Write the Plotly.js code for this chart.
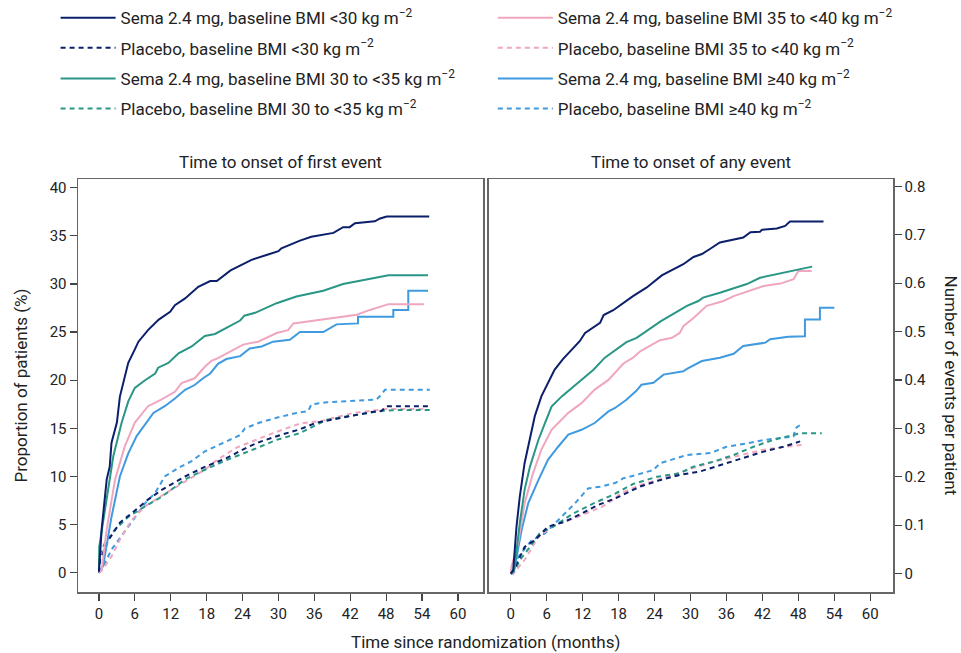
<!DOCTYPE html>
<html><head><meta charset="utf-8">
<script src="https://cdn.plot.ly/plotly-3.0.1.min.js"></script>
<style>html,body{margin:0;padding:0;background:#fff}</style>
</head><body>
<div id="chart" style="width:961px;height:653px"></div>
<script>
// ---------- Legend labels ----------
const labels = [
  "Sema 2.4 mg, baseline BMI <30 kg m<sup>−2</sup>",
  "Placebo, baseline BMI <30 kg m<sup>−2</sup>",
  "Sema 2.4 mg, baseline BMI 30 to <35 kg m<sup>−2</sup>",
  "Placebo, baseline BMI 30 to <35 kg m<sup>−2</sup>",
  "Sema 2.4 mg, baseline BMI 35 to <40 kg m<sup>−2</sup>",
  "Placebo, baseline BMI 35 to <40 kg m<sup>−2</sup>",
  "Sema 2.4 mg, baseline BMI ≥40 kg m<sup>−2</sup>",
  "Placebo, baseline BMI ≥40 kg m<sup>−2</sup>"
];
const colors = ["#0b1f6b","#0b1f6b","#2a9686","#2a9686","#f0a6bf","#f0a6bf","#3f9ae0","#3f9ae0"];
const dashes = ["solid","5px,4px","solid","5px,4px","solid","5px,4px","solid","5px,4px"];

// ---------- Left panel: proportion of patients (%) ----------
const L_sema30_t = [0,0.45,1.3,1.8,2.1,3.0,3.5,4.9,6.0,6.6,8.2,10,11.9,12.7,14.4,16.6,18.6,19.7,22,25.5,28,30,30.5,33.6,35.5,39.2,40.8,41.9,42.8,46.1,47,48.1,55.2];
const L_sema30_v = [0.1,4.5,9.7,11.0,13.5,15.6,18.3,21.8,23.2,24.0,25.2,26.3,27.1,27.8,28.5,29.7,30.3,30.3,31.4,32.5,33,33.4,33.7,34.5,34.9,35.3,35.9,35.9,36.3,36.5,36.8,37.0,37.0];
const L_pla30_t = [0,0.2,1.6,3.5,5.5,8.2,10.5,14.4,17.7,21.3,24.7,26.9,30.3,33.6,36.4,38.1,42,45.6,47.2,48.1,55];
const L_pla30_v = [0,1.4,3.4,5.2,6.2,7.6,8.6,10.0,11.0,11.9,13.0,13.6,14.3,14.9,15.6,15.8,16.3,16.7,16.8,17.3,17.3];
const L_sema35_t = [0,0.05,1.0,2.4,3.8,4.9,6.0,7.7,9.4,9.9,11.6,13.3,15.5,17.7,19.4,23.6,24.3,26.1,29.7,33,37.5,40.8,48.4,55];
const L_sema35_v = [0.3,2.7,6.5,12.1,15.6,17.8,19.2,20.0,20.7,21.3,21.8,22.8,23.5,24.6,24.8,26.2,26.7,27.0,28.0,28.7,29.3,30.0,30.9,30.9];
const L_pla35_t = [0,0.05,1.0,2.7,4.9,7.7,10.5,14.4,17.7,21.3,25.8,29.7,33.6,35.8,38.1,47,49.8,55.3];
const L_pla35_v = [0,1.8,3.1,4.5,5.8,6.9,7.9,9.7,10.7,11.7,12.8,13.8,14.5,15.2,15.9,16.8,16.9,16.9];
const L_sema40_t = [0,0.45,1.3,2.7,4.3,6.0,8.2,10.5,12.7,13.8,16.0,17.7,18.8,19.9,24.1,26.6,29.7,31.6,32.5,36.9,39.7,43.1,45.3,48.4,54.3];
const L_sema40_v = [0,0.3,4.5,9.7,13.1,15.6,17.3,18.0,18.8,19.7,20.2,21.4,22.0,22.3,23.7,24.0,24.9,25.2,25.9,26.3,26.5,26.8,27.3,27.9,27.9];
const L_pla40_t = [0,0.45,2.1,3.8,5.5,7.7,11.0,14.4,17.7,19.7,23,29.1,33.6,37.5,42.5,48.1,54.8];
const L_pla40_v = [0,0.2,1.7,3.8,5.5,6.9,8.2,9.5,10.7,11.7,13,14.5,15.5,15.8,16.6,17.0,17.0];
const L_semaGE40_t = [0,0.7,2.1,3.5,4.9,6.3,9.1,11.0,12.7,14.4,16.0,17.4,18.6,19.9,21.3,23.6,25.2,27.2,29.1,31.9,33.6,37.5,39.7,43.3,43.3,49.2,49.2,51.7,51.7,55];
const L_semaGE40_v = [0,0.7,5.8,10.0,12.4,14.2,16.6,17.3,18.1,19.0,19.5,20.2,20.7,21.7,22.2,22.5,23.3,23.5,24.0,24.2,25.0,25.0,25.8,25.9,26.6,26.6,27.3,27.3,29.3,29.3];
const L_plaGE40_t = [0,0.45,2.1,3.8,5.5,7.7,9.4,11.0,13.3,15.5,17.7,20.8,23.6,24.4,26.9,29.7,33,35,35.5,38.1,46.4,47.2,47.8,55.3];
const L_plaGE40_v = [0,0.3,2.4,3.8,5.3,7.2,8.3,10.0,10.9,11.6,12.6,13.5,14.3,15.0,15.6,16.1,16.6,16.8,17.5,17.7,18.0,18.5,19.0,19.0];

// ---------- Right panel: number of events per patient ----------
const R_sema30_t = [0,0.4,0.95,1.5,2.3,3.2,4.0,5.1,6.2,7.3,8.7,11.5,12.4,14.9,15.5,17.1,20.4,22.7,25.2,28.8,30.5,31.9,33.3,34.9,38.8,40,41.6,41.9,44.4,45.8,46.6,52.2];
const R_sema30_v = [0,0.007,0.097,0.159,0.228,0.276,0.325,0.366,0.394,0.421,0.443,0.48,0.497,0.518,0.534,0.544,0.573,0.591,0.616,0.639,0.654,0.660,0.671,0.684,0.694,0.705,0.706,0.710,0.713,0.718,0.727,0.727];
const R_pla30_t = [0,0.6,2.3,4.0,6.2,9.0,11.8,14.6,17.4,21.6,24.9,28.2,31.6,34.9,38.3,42.2,45.5,48.3];
const R_pla30_v = [0,0.01,0.055,0.069,0.097,0.107,0.124,0.142,0.155,0.18,0.193,0.204,0.211,0.224,0.238,0.252,0.262,0.273];
const R_sema35_t = [0,0.6,1.5,2.3,3.2,4.6,5.7,6.8,8.5,10.1,11.8,13.8,15.7,17.1,19.3,21,22.7,25,29.4,31.3,32.1,34.9,39.4,41.6,50.3];
const R_sema35_v = [0,0.01,0.104,0.173,0.221,0.276,0.311,0.345,0.366,0.383,0.40,0.421,0.446,0.459,0.478,0.487,0.501,0.521,0.553,0.563,0.570,0.580,0.598,0.611,0.634];
const R_pla35_t = [0,0.6,1.5,3.2,4.8,7.1,10.4,13.8,17.1,20.4,24.4,28.2,30.5,33.8,37.2,40.5,43.8,47.2,48.3,51.9];
const R_pla35_v = [0,0.005,0.028,0.055,0.083,0.097,0.124,0.145,0.163,0.185,0.20,0.207,0.221,0.231,0.245,0.262,0.276,0.287,0.29,0.29];
const R_sema40_t = [0,0.1,1.2,2.3,3.7,5.1,6.8,9.6,11.8,14.0,16.3,18.8,20.4,21.6,24.9,26.9,28.2,28.8,30.5,32.7,35.5,37.2,42.2,45,47.2,48,50.2];
const R_sema40_v = [0,0.014,0.062,0.145,0.207,0.256,0.297,0.332,0.352,0.38,0.40,0.434,0.446,0.459,0.482,0.487,0.497,0.511,0.528,0.553,0.563,0.573,0.594,0.599,0.608,0.625,0.625];
const R_pla40_t = [0,0.4,2.3,4.6,7.3,11.2,15.2,17.4,18.2,21.6,25.5,29.4,33.8,37.7,42.2,46,48.9];
const R_pla40_v = [0,0,0.028,0.076,0.10,0.117,0.138,0.155,0.165,0.183,0.197,0.214,0.231,0.242,0.256,0.262,0.266];
const R_semaGE40_t = [0,0.6,1.8,2.9,4.6,6.2,7.9,9.6,11.8,14.0,16.3,17.4,19.3,21,21.8,23.8,25.5,28.8,29.4,31.9,34.9,37.2,38.8,42.5,43.3,46.3,49.1,49.1,51.6,51.6,54];
const R_semaGE40_v = [0,0.01,0.09,0.145,0.193,0.235,0.262,0.287,0.297,0.311,0.335,0.342,0.359,0.378,0.39,0.394,0.411,0.418,0.423,0.439,0.446,0.454,0.47,0.477,0.484,0.489,0.49,0.525,0.525,0.549,0.549];
const R_plaGE40_t = [0,0.4,1.2,3.5,5.7,9.0,10.7,12.9,15.2,17.4,18.8,21,23.8,24.9,29.4,33.3,36,39.4,42.2,47.2,47.5,48.3,48.5];
const R_plaGE40_v = [0,0,0.034,0.069,0.083,0.124,0.145,0.176,0.18,0.187,0.197,0.204,0.214,0.228,0.245,0.249,0.262,0.269,0.276,0.283,0.30,0.307,0.303];

const xTicks = [0,6,12,18,24,30,36,42,48,54,60];
const yLeftTicks = [0,5,10,15,20,25,30,35,40];
const yRightTicks = [0,0.1,0.2,0.3,0.4,0.5,0.6,0.7,0.8];

const leftSeries = [[L_sema30_t,L_sema30_v],[L_pla30_t,L_pla30_v],[L_sema35_t,L_sema35_v],[L_pla35_t,L_pla35_v],
                    [L_sema40_t,L_sema40_v],[L_pla40_t,L_pla40_v],[L_semaGE40_t,L_semaGE40_v],[L_plaGE40_t,L_plaGE40_v]];
const rightSeries = [[R_sema30_t,R_sema30_v],[R_pla30_t,R_pla30_v],[R_sema35_t,R_sema35_v],[R_pla35_t,R_pla35_v],
                     [R_sema40_t,R_sema40_v],[R_pla40_t,R_pla40_v],[R_semaGE40_t,R_semaGE40_v],[R_plaGE40_t,R_plaGE40_v]];
const legendIds = ["legend","legend2","legend3","legend4","legend5","legend6","legend7","legend8"];

// draw order: placebo first, then sema (sema on top)
const order = [7,5,3,1,6,4,2,0];
const traces = [];
order.forEach(i => {
  traces.push({x: leftSeries[i][0], y: leftSeries[i][1], xaxis:'x', yaxis:'y', type:'scatter', mode:'lines',
    name: labels[i], legend: legendIds[i],
    line:{color:colors[i], width:2, dash:dashes[i]}, hoverinfo:'skip'});
});
order.forEach(i => {
  traces.push({x: rightSeries[i][0], y: rightSeries[i][1], xaxis:'x2', yaxis:'y2', type:'scatter', mode:'lines',
    name: labels[i], showlegend:false,
    line:{color:colors[i], width:2, dash:dashes[i]}, hoverinfo:'skip'});
});

const FONT = "Roboto, 'Open Sans', sans-serif";
const axisCommon = {showgrid:false, zeroline:false, showline:true, mirror:true, linecolor:'#666', linewidth:1.5,
  ticks:'outside', ticklen:7, tickcolor:'#444', tickwidth:1.2, tickfont:{size:15, color:'#222', family:FONT}};

const legCommon = {bgcolor:'rgba(0,0,0,0)', font:{size:17, color:'#222', family:FONT},
  xanchor:'left', yanchor:'top', itemwidth:55};
const legX = [-0.0275, 0.509];
const legY = [1.433, 1.360, 1.286, 1.213];

const layout = {
  width:961, height:653,
  margin:{l:78, r:68, t:179, b:61, autoexpand:false},
  paper_bgcolor:'#fff', plot_bgcolor:'#fff',
  font:{family:FONT, color:'#222'},
  xaxis: Object.assign({}, axisCommon, {domain:[0,0.497], range:[-3.5,64.2], tickvals:xTicks, anchor:'y'}),
  yaxis: Object.assign({}, axisCommon, {range:[-2,40.9], tickvals:yLeftTicks, anchor:'x'}),
  xaxis2: Object.assign({}, axisCommon, {domain:[0.504,1], range:[-3.68,63.8], tickvals:xTicks, anchor:'y2'}),
  yaxis2: Object.assign({}, axisCommon, {range:[-0.038,0.815], tickvals:yRightTicks, side:'right', anchor:'x2'}),
  annotations:[
    {text:'Time to onset of first event', xref:'paper', yref:'paper', x:0.2485, xanchor:'center', y:1.0, yanchor:'bottom', yshift:5, showarrow:false, font:{size:17, color:'#222'}},
    {text:'Time to onset of any event', xref:'paper', yref:'paper', x:0.752, xanchor:'center', y:1.0, yanchor:'bottom', yshift:5, showarrow:false, font:{size:17, color:'#222'}},
    {text:'Time since randomization (months)', xref:'paper', yref:'paper', x:0.5, xanchor:'center', y:0, yanchor:'top', yshift:-38, showarrow:false, font:{size:17, color:'#222'}},
    {text:'Proportion of patients (%)', xref:'paper', yref:'paper', x:0, xanchor:'center', xshift:-58, y:0.5, textangle:-90, showarrow:false, font:{size:17, color:'#222'}},
    {text:'Number of events per patient', xref:'paper', yref:'paper', x:1, xanchor:'center', xshift:58, y:0.5, textangle:90, showarrow:false, font:{size:17, color:'#222'}}
  ]
};
legendIds.forEach((id, i) => {
  layout[id] = Object.assign({}, legCommon, {x: legX[i < 4 ? 0 : 1], y: legY[i % 4]});
});

Plotly.newPlot('chart', traces, layout, {displayModeBar:false, staticPlot:true});
</script>
</body></html>
